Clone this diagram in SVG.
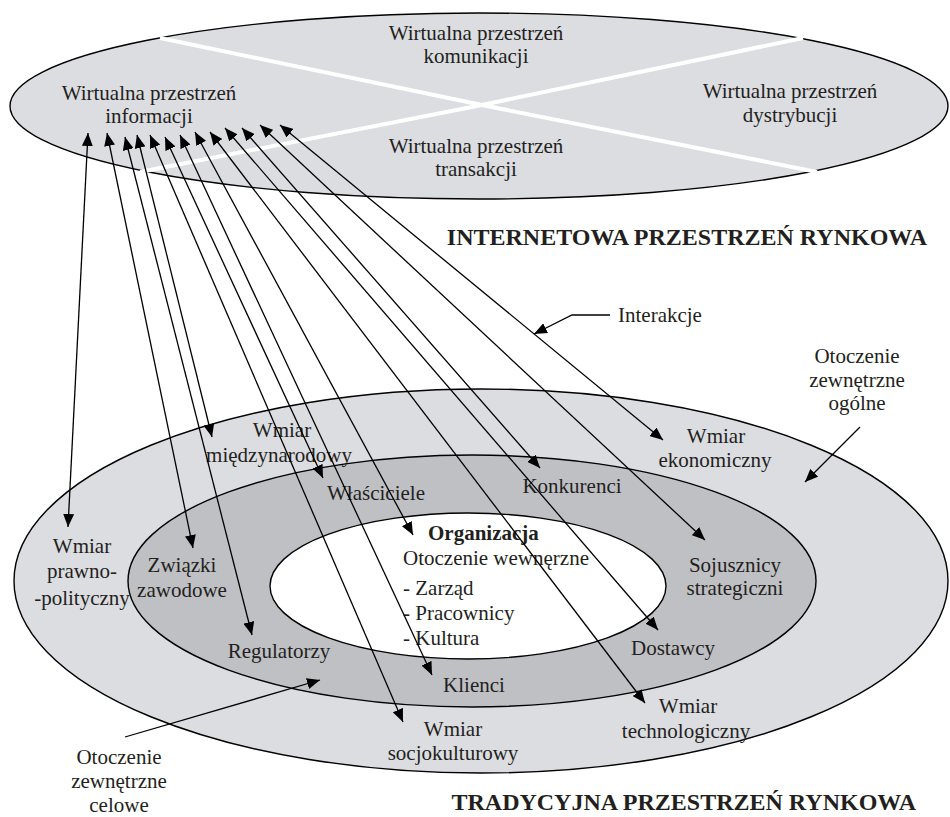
<svg xmlns="http://www.w3.org/2000/svg" width="950" height="817" viewBox="0 0 950 817">
  <style>
    text { font-family: "Liberation Serif", "Times New Roman", serif; font-size: 21px; fill: #231f20; }
    .c { text-anchor: middle; }
    .h { font-size: 24px; font-weight: bold; text-anchor: end; }
    .b { font-weight: bold; }
    .light { fill: #dcdde0; stroke: #000; stroke-width: 1.4; }
    .mid { fill: #bfc0c4; stroke: #000; stroke-width: 1.4; }
    .core { fill: #fff; stroke: #000; stroke-width: 1.4; }
    .split { stroke: #fff; stroke-width: 4; fill: none; }
    .link { stroke: #000; stroke-width: 1.3; fill: none; marker-start: url(#head); marker-end: url(#head); }
    .lead { stroke: #000; stroke-width: 1.3; fill: none; marker-end: url(#head); }
  </style>
  <defs>
    <marker id="head" markerUnits="userSpaceOnUse" markerWidth="13" markerHeight="11" refX="13" refY="5.5" orient="auto-start-reverse">
      <path d="M0,0 L13,5.5 L0,11 z" fill="#000"/>
    </marker>
  </defs>

  <!-- Internet market space: one ellipse split into four virtual spaces -->
  <g id="internet-space">
    <ellipse class="light" cx="479" cy="106" rx="469" ry="93"/>
    <path class="split" d="M160,38 L482,105 L817,172"/>
    <path class="split" d="M803,38 L482,105 L140,172"/>
  </g>
  <g id="v-komunikacja">
    <text class="c" x="476" y="40">Wirtualna przestrzeń</text>
    <text class="c" x="476" y="63">komunikacji</text>
  </g>
  <g id="v-informacja">
    <text class="c" x="149" y="100">Wirtualna przestrzeń</text>
    <text class="c" x="149" y="123">informacji</text>
  </g>
  <g id="v-dystrybucja">
    <text class="c" x="790" y="98">Wirtualna przestrzeń</text>
    <text class="c" x="790" y="122">dystrybucji</text>
  </g>
  <g id="v-transakcja">
    <text class="c" x="476" y="153">Wirtualna przestrzeń</text>
    <text class="c" x="476" y="176">transakcji</text>
  </g>
  <g id="title-internet">
    <text class="h" x="927" y="245">INTERNETOWA PRZESTRZEŃ RYNKOWA</text>
  </g>

  <!-- Traditional market space: general, task and internal environment -->
  <g id="env-general">
    <ellipse class="light" cx="481" cy="581" rx="467" ry="192"/>
  </g>
  <g id="env-task">
    <ellipse class="mid" cx="472" cy="581" rx="344" ry="126"/>
  </g>
  <g id="env-internal">
    <ellipse class="core" cx="468" cy="586" rx="198" ry="73"/>
  </g>

  <g id="n-miedzynarodowy">
    <text class="c" x="282" y="437">Wmiar</text>
    <text class="c" x="279" y="462">międzynarodowy</text>
  </g>
  <g id="n-wlasciciele">
    <text class="c" x="376" y="500">Właściciele</text>
  </g>
  <g id="n-organizacja">
    <text class="b" x="428" y="540">Organizacja</text>
    <text x="403" y="565">Otoczenie wewnęrzne</text>
    <text x="403" y="595">- Zarząd</text>
    <text x="403" y="620">- Pracownicy</text>
    <text x="403" y="645">- Kultura</text>
  </g>
  <g id="n-zwiazki">
    <text class="c" x="182" y="572">Związki</text>
    <text class="c" x="182" y="597">zawodowe</text>
  </g>
  <g id="n-prawno">
    <text class="c" x="82" y="553">Wmiar</text>
    <text class="c" x="82" y="578">prawno-</text>
    <text class="c" x="82" y="605">-polityczny</text>
  </g>
  <g id="n-regulatorzy">
    <text class="c" x="279" y="658">Regulatorzy</text>
  </g>
  <g id="n-klienci">
    <text class="c" x="474" y="692">Klienci</text>
  </g>
  <g id="n-socjokulturowy">
    <text class="c" x="453" y="736">Wmiar</text>
    <text class="c" x="453" y="760">socjokulturowy</text>
  </g>
  <g id="n-ekonomiczny">
    <text class="c" x="716" y="443">Wmiar</text>
    <text class="c" x="715" y="467">ekonomiczny</text>
  </g>
  <g id="n-konkurenci">
    <text class="c" x="572" y="493">Konkurenci</text>
  </g>
  <g id="n-sojusznicy">
    <text class="c" x="735" y="572">Sojusznicy</text>
    <text class="c" x="735" y="595">strategiczni</text>
  </g>
  <g id="n-dostawcy">
    <text class="c" x="673" y="655">Dostawcy</text>
  </g>
  <g id="n-technologiczny">
    <text class="c" x="688" y="713">Wmiar</text>
    <text class="c" x="686" y="738">technologiczny</text>
  </g>

  <g id="lbl-ogolne">
    <text class="c" x="857" y="363">Otoczenie</text>
    <text class="c" x="857" y="387">zewnętrzne</text>
    <text class="c" x="857" y="410">ogólne</text>
  </g>
  <g id="lbl-celowe">
    <text class="c" x="119" y="764">Otoczenie</text>
    <text class="c" x="119" y="788">zewnętrzne</text>
    <text class="c" x="119" y="812">celowe</text>
  </g>
  <g id="lbl-interakcje">
    <text x="618" y="322">Interakcje</text>
  </g>
  <g id="title-traditional">
    <text class="h" x="916" y="810">TRADYCYJNA PRZESTRZEŃ RYNKOWA</text>
  </g>

  <!-- Interactions between the information space and each element -->
  <g id="connectors">
    <line class="link" x1="88" y1="133" x2="68" y2="527"/>
    <line class="link" x1="107" y1="133" x2="193" y2="548"/>
    <line class="link" x1="125" y1="137" x2="252" y2="635"/>
    <line class="link" x1="137" y1="135" x2="212" y2="437"/>
    <line class="link" x1="150" y1="135" x2="403" y2="722"/>
    <line class="link" x1="165" y1="137" x2="323" y2="478"/>
    <line class="link" x1="180" y1="135" x2="432" y2="675"/>
    <line class="link" x1="195" y1="132" x2="413" y2="535"/>
    <line class="link" x1="210" y1="132" x2="645" y2="703"/>
    <line class="link" x1="225" y1="128" x2="658" y2="630"/>
    <line class="link" x1="242" y1="128" x2="540" y2="468"/>
    <line class="link" x1="260" y1="125" x2="705" y2="540"/>
    <line class="link" x1="280" y1="125" x2="663" y2="440"/>
    <polyline class="lead" points="610,315 572,315 534,334"/>
    <line class="lead" x1="860" y1="427" x2="805" y2="482"/>
    <line class="lead" x1="125" y1="737" x2="320" y2="680"/>
  </g>
</svg>
